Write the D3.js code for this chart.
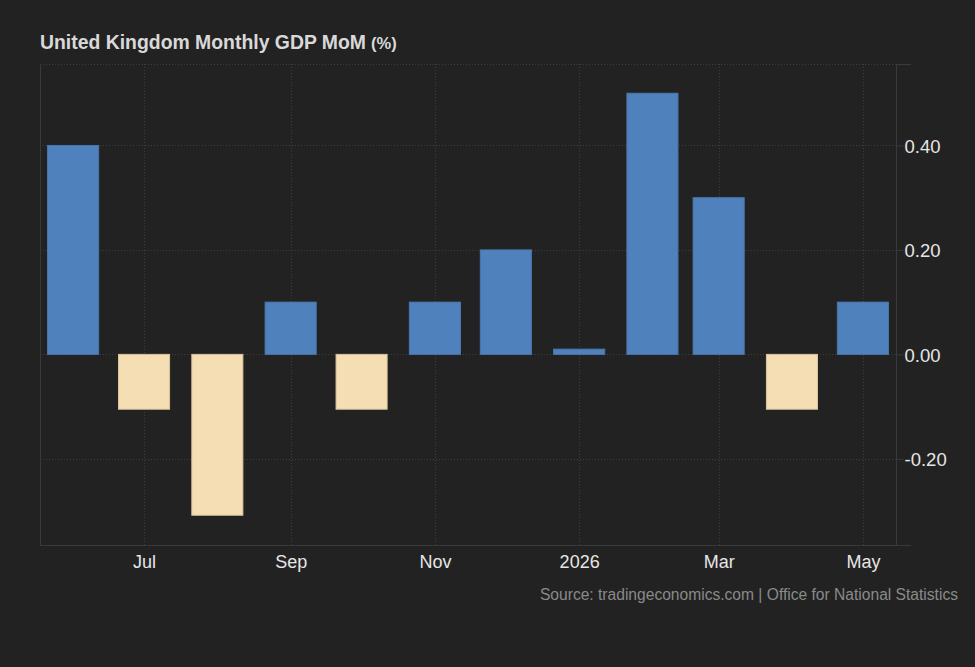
<!DOCTYPE html>
<html>
<head>
<meta charset="utf-8">
<script src="https://cdn.jsdelivr.net/npm/d3@7"></script>
<style>
  body { margin: 0; background: #222222; }
  svg { display: block; font-family: "Liberation Sans", Arial, sans-serif; }
  .grid line { stroke: #3d3d3d; stroke-dasharray: 1,2; }
  .axisGraph text { fill: #e6e6e6; font-size: 18px; }
</style>
</head>
<body>
<script>

// data
var months = ["2025-06", "2025-07", "2025-08", "2025-09", "2025-10", "2025-11",
  "2025-12", "2026-01", "2026-02", "2026-03", "2026-04", "2026-05"];
var gdpMoM = [0.4, -0.105, -0.308, 0.1, -0.105, 0.1, 0.2, 0.01, 0.5, 0.3, -0.105, 0.1];
var yTicks = [-0.2, 0, 0.2, 0.4];
var xTicks = ["2025-07", "2025-09", "2025-11", "2026-01", "2026-03", "2026-05"];
var title = "United Kingdom Monthly GDP MoM";
var unit = "(%)";
var source = "Source: tradingeconomics.com | Office for National Statistics";

/************************************************************************************************************/

var width = 975, height = 667;
var margin = {left: 40, right: 79, top: 64, bottom: 122};
var plotW = width - margin.left - margin.right, plotH = height - margin.top - margin.bottom;

var parse = d3.timeParse("%Y-%m");

var svg = d3.select("body").append("svg")
  .attr("width", width)
  .attr("height", height);

svg.append("rect").attr("width", width).attr("height", height).attr("fill", "#222222");

var x = d3.scaleTime()
  .domain([d3.timeDay.offset(parse(months[0]), -14), d3.timeDay.offset(parse(months[months.length - 1]), 14.5)])
  .range([0, plotW]);

var y = d3.scaleLinear()
  .domain([-0.365, 0.556])
  .range([plotH, 0]);

var g = svg.append("g").attr("transform", "translate(" + [margin.left, margin.top] + ")");

//grid
var grid = g.append("g").attr("class", "grid");

grid.selectAll(".hgrid").data(yTicks.concat([y.domain()[1]])).enter().append("line")
  .attr("class", "hgrid")
  .attr("x1", 0).attr("x2", plotW)
  .attr("y1", function(d){ return Math.round(y(d)) + 0.5; })
  .attr("y2", function(d){ return Math.round(y(d)) + 0.5; });

grid.selectAll(".vgrid").data(xTicks).enter().append("line")
  .attr("class", "vgrid")
  .attr("y1", 0).attr("y2", plotH)
  .attr("x1", function(d){ return Math.round(x(parse(d))) + 0.5; })
  .attr("x2", function(d){ return Math.round(x(parse(d))) + 0.5; });

// frame lines
g.append("line").attr("x1", 0.5).attr("x2", 0.5).attr("y1", 0).attr("y2", plotH)
  .attr("stroke", "#3a3a3a");

//bars
var monthW = x(parse(months[1])) - x(parse(months[0]));
var barW = monthW * 0.72;

g.selectAll(".data").data(months).enter().append("rect")
  .attr("class", "data")
  .attr("x", function(d){ return x(parse(d)) - barW / 2; })
  .attr("y", function(d, i){ return y(Math.max(0, gdpMoM[i])); })
  .attr("width", barW)
  .attr("height", function(d, i){ return Math.abs(y(gdpMoM[i]) - y(0)); })
  .attr("fill", function(d, i){ return gdpMoM[i] >= 0 ? "#4f81bd" : "#f5deb3"; })
  .attr("stroke", function(d, i){ return gdpMoM[i] >= 0 ? "#4a78b0" : "#d9c39a"; })
  .attr("stroke-width", 1);

//y axis on the right
var axisY = g.append("g")
  .attr("class", "axisGraph")
  .attr("transform", "translate(" + [plotW + 0.5, 0] + ")")
  .call(d3.axisRight(y).tickValues(yTicks).tickSize(7).tickPadding(1)
    .tickFormat(function(d){ return d3.format(".2f")(d).replace("\u2212", "-"); }));

axisY.select(".domain").remove();
axisY.selectAll(".tick line").attr("stroke", "#3a3a3a");
axisY.selectAll(".tick text").attr("dy", "0.36em").style("font-size", "18.5px");

g.append("line").attr("x1", plotW + 0.5).attr("x2", plotW + 0.5).attr("y1", 0).attr("y2", plotH)
  .attr("stroke", "#3a3a3a");
g.append("line").attr("x1", plotW).attr("x2", plotW + 15).attr("y1", 0.5).attr("y2", 0.5)
  .attr("stroke", "#3a3a3a");

//x axis
var axisX = g.append("g")
  .attr("class", "axisGraph")
  .attr("transform", "translate(" + [0, plotH + 0.5] + ")")
  .call(d3.axisBottom(x).tickValues(xTicks.map(parse)).tickSize(0).tickPadding(10)
    .tickFormat(function(d){ return d.getMonth() === 0 ? d3.timeFormat("%Y")(d) : d3.timeFormat("%b")(d); }));

axisX.select(".domain").remove();
axisX.selectAll(".tick text").attr("dy", "0.71em");

g.append("line").attr("x1", 0).attr("x2", plotW + 15).attr("y1", plotH + 0.5).attr("y2", plotH + 0.5)
  .attr("stroke", "#3a3a3a");

//title
var t = svg.append("text")
  .attr("x", margin.left)
  .attr("y", 49)
  .attr("fill", "#d9d9d9")
  .attr("font-weight", "bold")
  .attr("font-size", "19.4px")
  .text(title);
t.append("tspan").attr("font-size", "16.5px").attr("dx", "5").text(unit);

//source
svg.append("text")
  .attr("x", 958)
  .attr("y", 600)
  .attr("text-anchor", "end")
  .attr("fill", "#8a8a8a")
  .attr("font-size", "15.6px")
  .text(source);

</script>
</body>
</html>
